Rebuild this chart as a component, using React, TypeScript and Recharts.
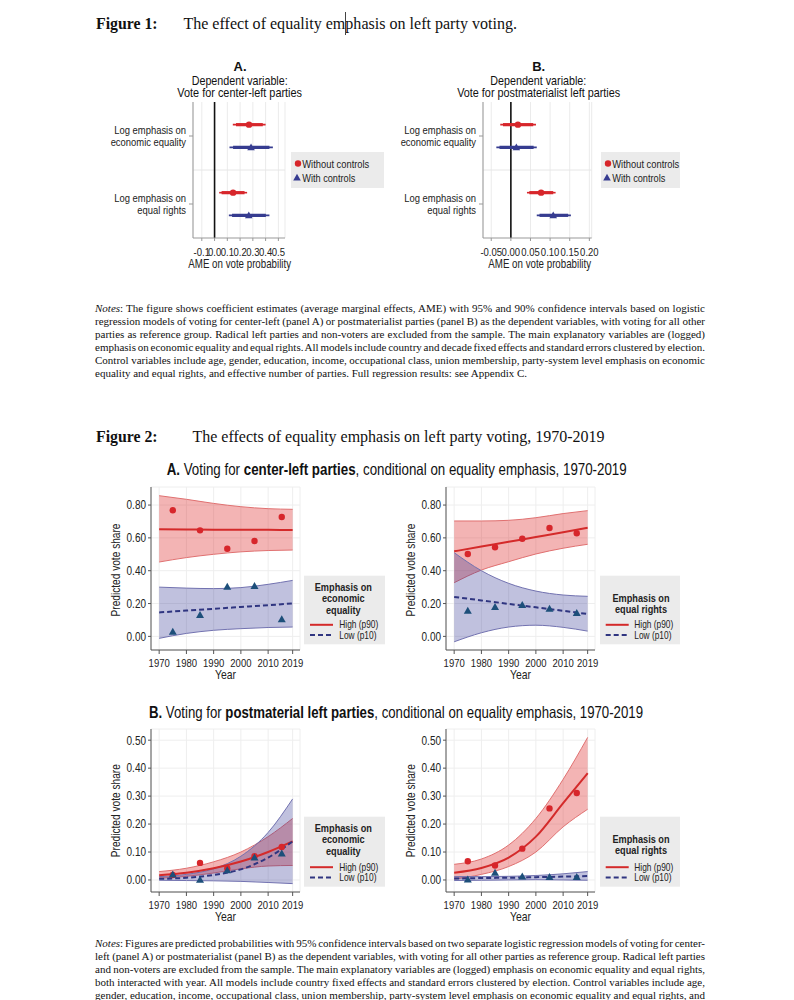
import React from 'react';
import {
  ScatterChart,
  ComposedChart,
  Scatter,
  Area,
  Line,
  XAxis,
  YAxis,
  CartesianGrid,
  ReferenceLine,
} from 'recharts';

const SANS = "'Liberation Sans', Arial, sans-serif";
const SERIF = "'Liberation Serif', 'Times New Roman', serif";
const SX = 0.82; // horizontal squeeze, the original uses a narrow face
const RED = '#d7262b';
const NAVY = '#363c90';
const TEAL = '#1d4f7a';
const BAND_RED = '#dc2828';
const BAND_BLUE = '#2e3192';

// ---------- Figure 1 data ----------
const f1RowRed = [1, 4];
const f1RowBlue = [2, 5];
const f1CatTicks = [1.5, 4.5];
const f1CatLabels = [
  ['Log emphasis on', 'economic equality'],
  ['Log emphasis on', 'equal rights'],
];

const f1aTicks = [-0.1, 0, 0.1, 0.2, 0.3, 0.4, 0.5];
const f1aTickLabels = ['-0.1', '0.0', '0.1', '0.2', '0.3', '0.4', '0.5'];
const f1aRedEst = [0.27, 0.145];
const f1aRedLo95 = [0.143, 0.036];
const f1aRedHi95 = [0.4, 0.255];
const f1aRedLo90 = [0.168, 0.055];
const f1aRedHi90 = [0.378, 0.235];
const f1aBlueEst = [0.286, 0.268];
const f1aBlueLo95 = [0.117, 0.112];
const f1aBlueHi95 = [0.457, 0.43];
const f1aBlueLo90 = [0.145, 0.137];
const f1aBlueHi90 = [0.43, 0.402];

const f1bTicks = [-0.05, 0, 0.05, 0.1, 0.15, 0.2];
const f1bTickLabels = ['-0.05', '0.00', '0.05', '0.10', '0.15', '0.20'];
const f1bRedEst = [0.018, 0.077];
const f1bRedLo95 = [-0.027, 0.041];
const f1bRedHi95 = [0.064, 0.114];
const f1bRedLo90 = [-0.02, 0.047];
const f1bRedHi90 = [0.057, 0.108];
const f1bBlueEst = [0.014, 0.108];
const f1bBlueLo95 = [-0.037, 0.066];
const f1bBlueHi95 = [0.066, 0.153];
const f1bBlueLo90 = [-0.029, 0.073];
const f1bBlueHi90 = [0.058, 0.146];

// ---------- Figure 2 data ----------
const curveYears = [1970, 1980, 1990, 2000, 2010, 2019];
const pointYears = [1975, 1985, 1995, 2005, 2015];
const yearTicks = [1970, 1980, 1990, 2000, 2010, 2019];
const yearTickLabels = ['1970', '1980', '1990', '2000', '2010', '2019'];

const clTicks = [0, 0.2, 0.4, 0.6, 0.8];
const clTickLabels = ['0.00', '0.20', '0.40', '0.60', '0.80'];
const pmTicks = [0, 0.1, 0.2, 0.3, 0.4, 0.5];
const pmTickLabels = ['0.00', '0.10', '0.20', '0.30', '0.40', '0.50'];

// A left: center-left, economic equality
const clEconHigh = [0.652, 0.651, 0.65, 0.65, 0.649, 0.648];
const clEconHighLo = [0.453, 0.48, 0.5, 0.515, 0.523, 0.526];
const clEconHighHi = [0.857, 0.835, 0.81, 0.79, 0.778, 0.774];
const clEconLow = [0.146, 0.157, 0.168, 0.179, 0.19, 0.201];
const clEconLowLo = [-0.012, 0.018, 0.037, 0.047, 0.054, 0.057];
const clEconLowHi = [0.3, 0.294, 0.291, 0.297, 0.317, 0.341];
const clEconHighPts = [0.768, 0.646, 0.534, 0.581, 0.727];
const clEconLowPts = [0.028, 0.13, 0.302, 0.307, 0.104];

// A right: center-left, equal rights
const clRightsHigh = [0.518, 0.547, 0.576, 0.605, 0.634, 0.662];
const clRightsHighLo = [0.327, 0.404, 0.455, 0.502, 0.537, 0.561];
const clRightsHighHi = [0.703, 0.703, 0.707, 0.723, 0.748, 0.766];
const clRightsLow = [0.24, 0.219, 0.198, 0.177, 0.156, 0.136];
const clRightsLowLo = [-0.033, 0.022, 0.057, 0.068, 0.055, 0.032];
const clRightsLowHi = [0.51, 0.4, 0.323, 0.276, 0.252, 0.244];
const clRightsHighPts = [0.502, 0.543, 0.595, 0.66, 0.628];
const clRightsLowPts = [0.156, 0.179, 0.191, 0.169, 0.142];

// B left: postmaterial, economic equality
const pmEconHigh = [0.017, 0.026, 0.042, 0.066, 0.1, 0.138];
const pmEconHighLo = [0.006, 0.013, 0.025, 0.04, 0.05, 0.052];
const pmEconHighHi = [0.03, 0.042, 0.065, 0.1, 0.155, 0.22];
const pmEconLow = [0.004, 0.008, 0.018, 0.038, 0.08, 0.138];
const pmEconLowLo = [-0.001, -0.002, -0.003, -0.005, -0.009, -0.013];
const pmEconLowHi = [0.012, 0.02, 0.04, 0.085, 0.17, 0.29];
const pmEconHighPts = [0.018, 0.061, 0.041, 0.085, 0.118];
const pmEconLowPts = [0.02, 0.001, 0.035, 0.08, 0.095];

// B right: postmaterial, equal rights
const pmRightsHigh = [0.026, 0.043, 0.08, 0.155, 0.275, 0.382];
const pmRightsHighLo = [0.003, 0.02, 0.048, 0.1, 0.19, 0.253];
const pmRightsHighHi = [0.056, 0.075, 0.125, 0.22, 0.36, 0.51];
const pmRightsLow = [0.005, 0.007, 0.008, 0.01, 0.012, 0.014];
const pmRightsLowLo = [-0.002, -0.001, 0.0, 0.001, 0.0, -0.001];
const pmRightsLowHi = [0.012, 0.012, 0.013, 0.016, 0.022, 0.03];
const pmRightsHighPts = [0.067, 0.052, 0.112, 0.256, 0.311];
const pmRightsLowPts = [0.002, 0.026, 0.012, 0.011, 0.011];

// ---------- notes ----------
const notes1 = [
  ': The figure shows coefficient estimates (average marginal effects, AME) with 95% and 90% confidence intervals based on logistic',
  'regression models of voting for center-left (panel A) or postmaterialist parties (panel B) as the dependent variables, with voting for all other',
  'parties as reference group. Radical left parties and non-voters are excluded from the sample. The main explanatory variables are (logged)',
  'emphasis on economic equality and equal rights. All models include country and decade fixed effects and standard errors clustered by election.',
  'Control variables include age, gender, education, income, occupational class, union membership, party-system level emphasis on economic',
  'equality and equal rights, and effective number of parties. Full regression results: see Appendix C.',
];
const notes2 = [
  ': Figures are predicted probabilities with 95% confidence intervals based on two separate logistic regression models of voting for center-',
  'left (panel A) or postmaterialist (panel B) as the dependent variables, with voting for all other parties as reference group. Radical left parties',
  'and non-voters are excluded from the sample. The main explanatory variables are (logged) emphasis on economic equality and equal rights,',
  'both interacted with year. All models include country fixed effects and standard errors clustered by election. Control variables include age,',
  'gender, education, income, occupational class, union membership, party-system level emphasis on economic equality and equal rights, and',
];

const Dot = (p: any) => <circle cx={p.cx} cy={p.cy} r={3.2} fill={RED} />;
const makeTri = (color: string, s: number) => (p: any) =>
  (
    <path
      d={`M${p.cx},${p.cy - s} L${p.cx + s},${p.cy + s * 0.75} L${p.cx - s},${p.cy + s * 0.75} Z`}
      fill={color}
    />
  );
const NavyTri = makeTri(NAVY, 3.8);
const TealTri = makeTri(TEAL, 4);

// narrow-looking tick text
function NarrowText({ x, y, anchor, dy, size, children, bold }: any) {
  return (
    <text
      transform={`translate(${x},${y}) scale(${SX},1)`}
      textAnchor={anchor}
      dy={dy}
      fontSize={size}
      fontFamily={SANS}
      fontWeight={bold ? 'bold' : 'normal'}
      fill="#222"
    >
      {children}
    </text>
  );
}

const xTick = (ticks: number[], labels: string[], size: number) => (props: any) =>
  (
    <NarrowText x={props.x} y={props.y} anchor="middle" dy="0.71em" size={size}>
      {labels[ticks.indexOf(props.payload.value)]}
    </NarrowText>
  );
const yTick = (ticks: number[], labels: string[], size: number) => (props: any) =>
  (
    <NarrowText x={props.x} y={props.y} anchor="end" dy="0.355em" size={size}>
      {labels[ticks.indexOf(props.payload.value)]}
    </NarrowText>
  );

function CatTick(props: any) {
  const { x, y, payload } = props;
  const idx = f1CatTicks.indexOf(payload.value);
  const lines = f1CatLabels[idx] || [];
  return (
    <g>
      {lines.map((t, i) => (
        <NarrowText key={i} x={x} y={y + (i === 0 ? -6 : 6.3)} anchor="end" dy="0.355em" size={11.5}>
          {t}
        </NarrowText>
      ))}
    </g>
  );
}

type CI = { est: number[]; lo95: number[]; hi95: number[]; lo90: number[]; hi90: number[] };

function Fig1Panel(props: {
  left: number;
  width: number;
  right: number;
  domain: [number, number];
  ticks: number[];
  labels: string[];
  red: CI;
  blue: CI;
}) {
  const { left, width, right, domain, ticks, labels, red, blue } = props;
  const redPts = red.est.map((x, i) => ({ x, y: f1RowRed[i] }));
  const bluePts = blue.est.map((x, i) => ({ x, y: f1RowBlue[i] }));
  const segs: any[] = [];
  [red, blue].forEach((s, k) => {
    const rows = k === 0 ? f1RowRed : f1RowBlue;
    const col = k === 0 ? RED : NAVY;
    s.est.forEach((_, i) => {
      segs.push(
        <ReferenceLine
          key={`a${k}${i}`}
          segment={[{ x: s.lo95[i], y: rows[i] }, { x: s.hi95[i], y: rows[i] }]}
          stroke={col}
          strokeWidth={1.6}
        />
      );
      segs.push(
        <ReferenceLine
          key={`b${k}${i}`}
          segment={[{ x: s.lo90[i], y: rows[i] }, { x: s.hi90[i], y: rows[i] }]}
          stroke={col}
          strokeWidth={3.2}
        />
      );
    });
  });
  return (
    <div style={{ position: 'absolute', left, top: 95 }}>
      <ScatterChart width={width} height={182} margin={{ top: 7, right, bottom: 0, left: 0 }}>
        <CartesianGrid horizontal={false} stroke="#ebebeb" />
        <XAxis
          type="number"
          dataKey="x"
          domain={domain}
          allowDataOverflow
          ticks={ticks}
          interval={0}
          tick={xTick(ticks, labels, 11.6)}
          tickSize={3}
          tickMargin={6.5}
          stroke="#999"
          height={39}
        />
        <YAxis
          type="number"
          dataKey="y"
          domain={[0, 6]}
          reversed
          ticks={f1CatTicks}
          interval={0}
          tick={<CatTick />}
          tickSize={4}
          tickMargin={3}
          stroke="#999"
          width={98}
        />
        <ReferenceLine y={3} stroke="#e6e6e6" />
        <ReferenceLine x={0} stroke="#111" strokeWidth={1.6} />
        {segs}
        <Scatter data={redPts} shape={Dot} isAnimationActive={false} />
        <Scatter data={bluePts} shape={NavyTri} isAnimationActive={false} />
      </ScatterChart>
    </div>
  );
}

function Fig2Panel(props: {
  left: number;
  top: number;
  xAxisHeight: number;
  yDomain: [number, number];
  yTicks: number[];
  yLabels: string[];
  high: number[];
  highLo: number[];
  highHi: number[];
  low: number[];
  lowLo: number[];
  lowHi: number[];
  highPts: number[];
  lowPts: number[];
}) {
  const p = props;
  const data = curveYears.map((year, i) => ({
    year,
    high: p.high[i],
    highBand: [p.highLo[i], p.highHi[i]],
    low: p.low[i],
    lowBand: [p.lowLo[i], p.lowHi[i]],
  }));
  const hiPts = pointYears.map((year, i) => ({ year, v: p.highPts[i] }));
  const loPts = pointYears.map((year, i) => ({ year, v: p.lowPts[i] }));
  return (
    <div style={{ position: 'absolute', left: p.left, top: p.top }}>
      <ComposedChart
        width={205}
        height={170 + p.xAxisHeight}
        data={data}
        margin={{ top: 7, right: 5, bottom: 0, left: 0 }}
      >
        <CartesianGrid stroke="#eeeeee" />
        <XAxis
          type="number"
          dataKey="year"
          domain={[1967, 2021.7]}
          allowDataOverflow
          ticks={yearTicks}
          interval={0}
          tick={xTick(yearTicks, yearTickLabels, 11.6)}
          tickSize={4}
          tickMargin={5}
          stroke="#555"
          height={p.xAxisHeight}
        />
        <YAxis
          type="number"
          domain={p.yDomain}
          allowDataOverflow
          ticks={p.yTicks}
          interval={0}
          tick={yTick(p.yTicks, p.yLabels, 12.2)}
          tickSize={3}
          tickMargin={2}
          stroke="#555"
          width={51}
        />
        <Area
          type="monotone"
          dataKey="highBand"
          fill={BAND_RED}
          fillOpacity={0.35}
          stroke="#e07070"
          strokeWidth={1}
          isAnimationActive={false}
        />
        <Area
          type="monotone"
          dataKey="lowBand"
          fill={BAND_BLUE}
          fillOpacity={0.3}
          stroke="#7272b0"
          strokeWidth={1}
          isAnimationActive={false}
        />
        <Line type="monotone" dataKey="high" stroke="#d42a2a" strokeWidth={2} dot={false} isAnimationActive={false} />
        <Line
          type="monotone"
          dataKey="low"
          stroke="#2f3580"
          strokeWidth={2}
          strokeDasharray="5 3"
          dot={false}
          isAnimationActive={false}
        />
        <Scatter data={hiPts} dataKey="v" shape={Dot} isAnimationActive={false} />
        <Scatter data={loPts} dataKey="v" shape={TealTri} isAnimationActive={false} />
      </ComposedChart>
    </div>
  );
}

function Fig2Legend({ x, y, w, h, title, cx, firstY, textX, lineX }: any) {
  return (
    <g>
      <rect x={x} y={y} width={w} height={h} fill="#ebebeb" />
      {title.map((t: string, i: number) => (
        <NarrowText key={t} x={cx} y={firstY + i * 11.2} anchor="middle" dy="0.355em" size={11.2} bold>
          {t}
        </NarrowText>
      ))}
      <line x1={lineX} x2={lineX + 23} y1={y + h - 19.5} y2={y + h - 19.5} stroke="#d42a2a" strokeWidth={2} />
      <line
        x1={lineX}
        x2={lineX + 23}
        y1={y + h - 9.2}
        y2={y + h - 9.2}
        stroke="#2f3580"
        strokeWidth={2}
        strokeDasharray="5 3"
      />
      <NarrowText x={textX} y={y + h - 19.5} anchor="start" dy="0.355em" size={10.2}>
        High (p90)
      </NarrowText>
      <NarrowText x={textX} y={y + h - 9.2} anchor="start" dy="0.355em" size={10.2}>
        Low (p10)
      </NarrowText>
    </g>
  );
}

function Fig1Legend({ x, w }: { x: number; w: number }) {
  return (
    <g>
      <rect x={x} y={152} width={w} height={36} fill="#ebebeb" />
      <circle cx={x + 7} cy={163.5} r={3.2} fill={RED} />
      <path d={`M${x + 6},${173.8} L${x + 9.8},${180.6} L${x + 2.2},${180.6} Z`} fill={NAVY} />
      <text x={x + 11.3} y={164} dominantBaseline="central" fontSize={11.4} fontFamily={SANS} fill="#222" textLength={67} lengthAdjust="spacingAndGlyphs">
        Without controls
      </text>
      <text x={x + 11.3} y={178} dominantBaseline="central" fontSize={11.4} fontFamily={SANS} fill="#222" textLength={53} lengthAdjust="spacingAndGlyphs">
        With controls
      </text>
    </g>
  );
}

function NotesBlock({ lines, top, lh, justifyLast }: { lines: string[]; top: number; lh: number; justifyLast: boolean }) {
  return (
    <div
      style={{
        position: 'absolute',
        left: 95,
        top,
        width: 610,
        fontFamily: SERIF,
        fontSize: 11,
        lineHeight: `${lh}px`,
        color: '#111',
      }}
    >
      {lines.map((t, i) => {
        const just = i < lines.length - 1 || justifyLast;
        return (
          <div
            key={i}
            style={{
              whiteSpace: 'nowrap',
              textAlign: just ? 'justify' : 'left',
              textAlignLast: just ? 'justify' : 'left',
              wordSpacing: just ? '-1.5px' : '0px',
            }}
          >
            {i === 0 ? (
              <>
                <i>Notes</i>
                {t}
              </>
            ) : (
              t
            )}
          </div>
        );
      })}
    </div>
  );
}

function AxisTitles({ dx }: { dx: number }) {
  return (
    <g>
      <text x={225.5 + dx} y={674} textAnchor="middle" dominantBaseline="central" fontSize={12.8} fontFamily={SANS} fill="#222" textLength={21} lengthAdjust="spacingAndGlyphs">
        Year
      </text>
      <text x={225.5 + dx} y={916} textAnchor="middle" dominantBaseline="central" fontSize={12.8} fontFamily={SANS} fill="#222" textLength={21} lengthAdjust="spacingAndGlyphs">
        Year
      </text>
      <text
        transform={`translate(${116 + dx},570) rotate(-90)`}
        textAnchor="middle"
        dominantBaseline="central"
        fontSize={12.6}
        fontFamily={SANS}
        fill="#222"
        textLength={93}
        lengthAdjust="spacingAndGlyphs"
      >
        Predicted vote share
      </text>
      <text
        transform={`translate(${116 + dx},810.7) rotate(-90)`}
        textAnchor="middle"
        dominantBaseline="central"
        fontSize={12.6}
        fontFamily={SANS}
        fill="#222"
        textLength={93}
        lengthAdjust="spacingAndGlyphs"
      >
        Predicted vote share
      </text>
    </g>
  );
}

export default function App() {
  const titleStyle = { fontFamily: SANS, fontSize: 13, fill: '#111' };
  return (
    <div style={{ position: 'absolute', left: 0, top: 0, width: 794, height: 1000, background: '#fff', overflow: 'hidden' }}>
      <Fig1Panel
        left={95}
        width={200}
        right={10}
        domain={[-0.169, 0.552]}
        ticks={f1aTicks}
        labels={f1aTickLabels}
        red={{ est: f1aRedEst, lo95: f1aRedLo95, hi95: f1aRedHi95, lo90: f1aRedLo90, hi90: f1aRedHi90 }}
        blue={{ est: f1aBlueEst, lo95: f1aBlueLo95, hi95: f1aBlueHi95, lo90: f1aBlueLo90, hi90: f1aBlueHi90 }}
      />
      <Fig1Panel
        left={385}
        width={215}
        right={8.3}
        domain={[-0.071, 0.206]}
        ticks={f1bTicks}
        labels={f1bTickLabels}
        red={{ est: f1bRedEst, lo95: f1bRedLo95, hi95: f1bRedHi95, lo90: f1bRedLo90, hi90: f1bRedHi90 }}
        blue={{ est: f1bBlueEst, lo95: f1bBlueLo95, hi95: f1bBlueHi95, lo90: f1bBlueLo90, hi90: f1bBlueHi90 }}
      />

      <Fig2Panel
        left={100}
        top={480}
        xAxisHeight={30}
        yDomain={[-0.083, 0.91]}
        yTicks={clTicks}
        yLabels={clTickLabels}
        high={clEconHigh}
        highLo={clEconHighLo}
        highHi={clEconHighHi}
        low={clEconLow}
        lowLo={clEconLowLo}
        lowHi={clEconLowHi}
        highPts={clEconHighPts}
        lowPts={clEconLowPts}
      />
      <Fig2Panel
        left={395}
        top={480}
        xAxisHeight={30}
        yDomain={[-0.083, 0.91]}
        yTicks={clTicks}
        yLabels={clTickLabels}
        high={clRightsHigh}
        highLo={clRightsHighLo}
        highHi={clRightsHighHi}
        low={clRightsLow}
        lowLo={clRightsLowLo}
        lowHi={clRightsLowHi}
        highPts={clRightsHighPts}
        lowPts={clRightsLowPts}
      />
      <Fig2Panel
        left={100}
        top={722}
        xAxisHeight={31}
        yDomain={[-0.043, 0.54]}
        yTicks={pmTicks}
        yLabels={pmTickLabels}
        high={pmEconHigh}
        highLo={pmEconHighLo}
        highHi={pmEconHighHi}
        low={pmEconLow}
        lowLo={pmEconLowLo}
        lowHi={pmEconLowHi}
        highPts={pmEconHighPts}
        lowPts={pmEconLowPts}
      />
      <Fig2Panel
        left={395}
        top={722}
        xAxisHeight={31}
        yDomain={[-0.043, 0.54]}
        yTicks={pmTicks}
        yLabels={pmTickLabels}
        high={pmRightsHigh}
        highLo={pmRightsHighLo}
        highHi={pmRightsHighHi}
        low={pmRightsLow}
        lowLo={pmRightsLowLo}
        lowHi={pmRightsLowHi}
        highPts={pmRightsHighPts}
        lowPts={pmRightsLowPts}
      />

      <svg width={794} height={1000} style={{ position: 'absolute', left: 0, top: 0, pointerEvents: 'none' }}>
        <text x={96} y={29} fontFamily={SERIF} fontSize={16} fontWeight="bold" fill="#111" textLength={61.6} lengthAdjust="spacingAndGlyphs">
          Figure 1:
        </text>
        <text x={183.4} y={29} fontFamily={SERIF} fontSize={16} fill="#111" textLength={333.6} lengthAdjust="spacingAndGlyphs">
          The effect of equality emphasis on left party voting.
        </text>
        <rect x={345} y={12} width={1} height={23} fill="#444" />

        <text x={240} y={66} textAnchor="middle" dominantBaseline="central" {...titleStyle} fontWeight="bold">
          A.
        </text>
        <text x={239.7} y={80} textAnchor="middle" dominantBaseline="central" {...titleStyle} textLength={96} lengthAdjust="spacingAndGlyphs">
          Dependent variable:
        </text>
        <text x={239.7} y={92.7} textAnchor="middle" dominantBaseline="central" {...titleStyle} textLength={124.7} lengthAdjust="spacingAndGlyphs">
          Vote for center-left parties
        </text>
        <text x={538.7} y={66} textAnchor="middle" dominantBaseline="central" {...titleStyle} fontWeight="bold">
          B.
        </text>
        <text x={538.3} y={80} textAnchor="middle" dominantBaseline="central" {...titleStyle} textLength={96} lengthAdjust="spacingAndGlyphs">
          Dependent variable:
        </text>
        <text x={538.7} y={92.7} textAnchor="middle" dominantBaseline="central" {...titleStyle} textLength={163} lengthAdjust="spacingAndGlyphs">
          Vote for postmaterialist left parties
        </text>
        <text x={239.7} y={263.5} textAnchor="middle" dominantBaseline="central" fontSize={12.2} fontFamily={SANS} fill="#222" textLength={102.7} lengthAdjust="spacingAndGlyphs">
          AME on vote probability
        </text>
        <text x={539.7} y={263.5} textAnchor="middle" dominantBaseline="central" fontSize={12.2} fontFamily={SANS} fill="#222" textLength={102.7} lengthAdjust="spacingAndGlyphs">
          AME on vote probability
        </text>

        <Fig1Legend x={291} w={93} />
        <Fig1Legend x={601} w={79} />

        <text x={96} y={442} fontFamily={SERIF} fontSize={16} fontWeight="bold" fill="#111" textLength={61.6} lengthAdjust="spacingAndGlyphs">
          Figure 2:
        </text>
        <text x={192.5} y={442} fontFamily={SERIF} fontSize={16} fill="#111" textLength={412} lengthAdjust="spacingAndGlyphs">
          The effects of equality emphasis on left party voting, 1970-2019
        </text>

        <text x={166.7} y={475} fontFamily={SANS} fontSize={16.5} fill="#111" textLength={460} lengthAdjust="spacingAndGlyphs">
          <tspan fontWeight="bold">A.</tspan> Voting for <tspan fontWeight="bold">center-left parties</tspan>, conditional on equality emphasis, 1970-2019
        </text>
        <text x={149} y={718} fontFamily={SANS} fontSize={16.5} fill="#111" textLength={494} lengthAdjust="spacingAndGlyphs">
          <tspan fontWeight="bold">B.</tspan> Voting for <tspan fontWeight="bold">postmaterial left parties</tspan>, conditional on equality emphasis, 1970-2019
        </text>

        <AxisTitles dx={0} />
        <AxisTitles dx={295} />

        <Fig2Legend x={304} y={575.7} w={81} h={68.6} title={['Emphasis on', 'economic', 'equality']} cx={343.3} firstY={587.3} textX={339.3} lineX={310} />
        <Fig2Legend x={600} y={575.7} w={80} h={68.6} title={['Emphasis on', 'equal rights']} cx={641} firstY={598.3} textX={634.3} lineX={605.7} />
        <Fig2Legend x={304} y={816.7} w={81} h={70} title={['Emphasis on', 'economic', 'equality']} cx={343.3} firstY={828.3} textX={339.3} lineX={310} />
        <Fig2Legend x={600} y={816.7} w={80} h={70} title={['Emphasis on', 'equal rights']} cx={641} firstY={839.3} textX={634.3} lineX={605.7} />
      </svg>

      <NotesBlock lines={notes1} top={302} lh={12.9} justifyLast={false} />
      <NotesBlock lines={notes2} top={936.5} lh={13} justifyLast={true} />
    </div>
  );
}
